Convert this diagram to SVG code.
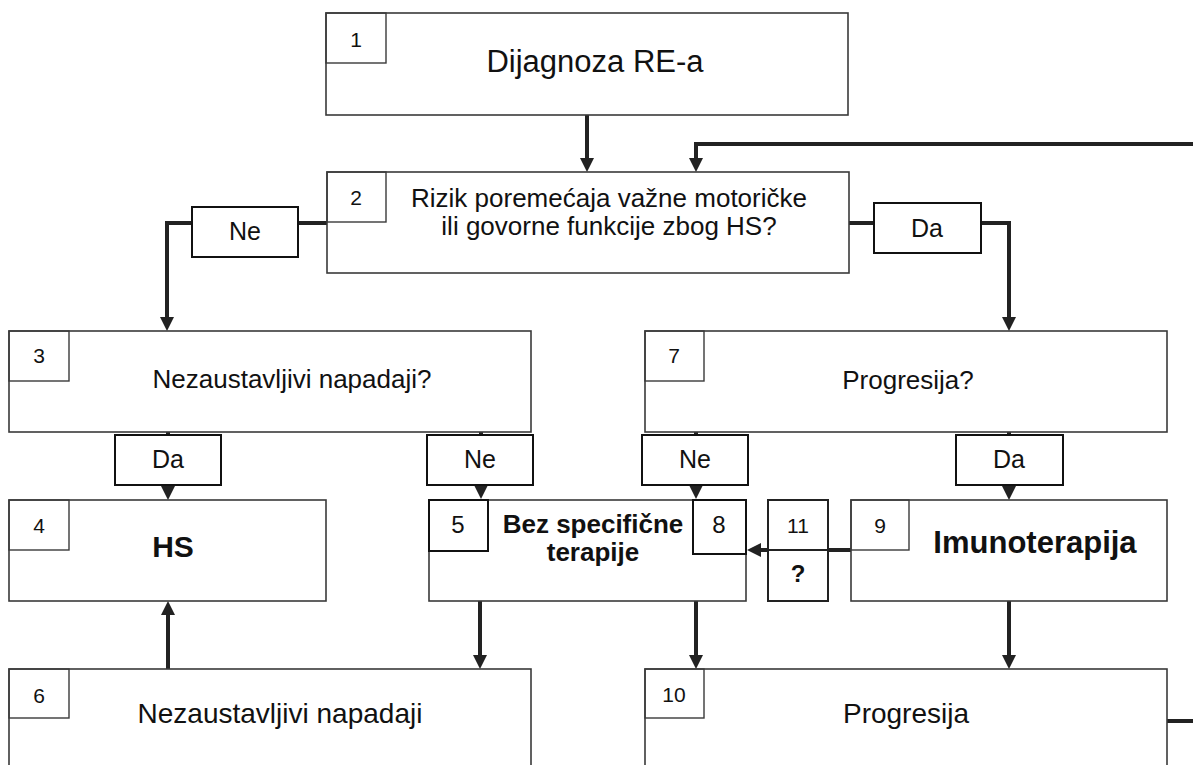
<svg xmlns="http://www.w3.org/2000/svg" width="1193" height="765" viewBox="0 0 1193 765">
<defs>
<marker id="ah" viewBox="0 0 10 10" markerWidth="14" markerHeight="14" markerUnits="userSpaceOnUse" refX="2.86" refY="5" orient="auto">
<path d="M0,0 L10,5 L0,10 z" fill="#222"/>
</marker>
<style>
.box{fill:#fff;stroke:#3a3a3a;stroke-width:1.6}
.lab{fill:none;stroke:#3a3a3a;stroke-width:1.4}
.dn{fill:#fff;stroke:#111;stroke-width:2}
.con{fill:none;stroke:#222;stroke-width:4}
.arr{fill:none;stroke:#222;stroke-width:4;marker-end:url(#ah)}
text{font-family:"Liberation Sans",Arial,sans-serif;fill:#111;text-anchor:middle}
.num{font-size:21px}
.big{font-size:24px}
.t{font-size:26px}
.yn{font-size:25px}
.b{font-weight:bold}
</style>
</defs>
<rect width="1193" height="765" fill="#fff"/>
<g id="connectors">
<line class="arr" x1="587" y1="115" x2="587" y2="162"/>
<polyline class="arr" points="1193,144 696,144 696,162"/>
<polyline class="arr" points="327,223 167,223 167,321"/>
<polyline class="arr" points="849,223 1009,223 1009,321"/>
<line class="arr" x1="168" y1="432" x2="168" y2="490"/>
<line class="arr" x1="481" y1="432" x2="481" y2="489"/>
<line class="arr" x1="696" y1="432" x2="696" y2="489"/>
<line class="arr" x1="1009" y1="432" x2="1009" y2="490"/>
<line class="arr" x1="851" y1="550" x2="757" y2="550"/>
<line class="arr" x1="168" y1="669" x2="168" y2="611"/>
<line class="arr" x1="480" y1="601" x2="480" y2="659"/>
<line class="arr" x1="696" y1="601" x2="696" y2="659"/>
<line class="arr" x1="1009" y1="601" x2="1009" y2="659"/>
<line class="con" x1="1167" y1="721" x2="1193" y2="721"/>
</g>
<g id="node1">
<rect class="box" x="326" y="13" width="522" height="102"/>
<rect class="lab" x="326" y="13" width="60" height="50"/>
<text class="num" x="356" y="47">1</text>
<text x="595" y="72" style="font-size:31px">Dijagnoza RE-a</text>
</g>
<g id="node2">
<rect class="box" x="327" y="172" width="522" height="101"/>
<rect class="lab" x="327" y="172" width="59" height="50"/>
<text class="num" x="356" y="205">2</text>
<text class="t" x="609" y="207">Rizik poremećaja važne motoričke</text>
<text class="t" x="609" y="235">ili govorne funkcije zbog HS?</text>
</g>
<g id="label-ne-2">
<rect class="dn" x="192" y="207" width="106" height="50"/>
<text class="yn" x="245" y="240">Ne</text>
</g>
<g id="label-da-2">
<rect class="dn" x="874" y="203" width="107" height="50"/>
<text class="yn" x="927" y="237">Da</text>
</g>
<g id="node3">
<rect class="box" x="9" y="331" width="522" height="101"/>
<rect class="lab" x="9" y="331" width="60" height="50"/>
<text class="num" x="39" y="363">3</text>
<text class="t" x="292" y="388">Nezaustavljivi napadaji?</text>
</g>
<g id="node7">
<rect class="box" x="645" y="331" width="522" height="101"/>
<rect class="lab" x="645" y="331" width="59" height="50"/>
<text class="num" x="674" y="363">7</text>
<text class="t" x="908" y="389">Progresija?</text>
</g>
<g id="label-da-3">
<rect class="dn" x="115" y="435" width="106" height="50"/>
<text class="yn" x="168" y="468">Da</text>
</g>
<g id="label-ne-3">
<rect class="dn" x="427" y="435" width="106" height="50"/>
<text class="yn" x="480" y="468">Ne</text>
</g>
<g id="label-ne-7">
<rect class="dn" x="642" y="435" width="106" height="50"/>
<text class="yn" x="695" y="468">Ne</text>
</g>
<g id="label-da-7">
<rect class="dn" x="956" y="435" width="107" height="50"/>
<text class="yn" x="1009" y="468">Da</text>
</g>
<g id="node4">
<rect class="box" x="9" y="500" width="317" height="101"/>
<rect class="lab" x="9" y="500" width="60" height="50"/>
<text class="num" x="39" y="533">4</text>
<text class="b" x="173" y="557" style="font-size:30px">HS</text>
</g>
<g id="node5-8">
<rect class="box" x="429" y="500" width="317" height="101"/>
<rect class="dn" x="429" y="500" width="59" height="51"/>
<text class="big" x="458" y="533">5</text>
<rect class="dn" x="693" y="500" width="53" height="54"/>
<text class="big" x="719" y="533">8</text>
<text class="b" x="593" y="533" style="font-size:26px">Bez specifične</text>
<text class="b" x="593" y="561" style="font-size:26px">terapije</text>
</g>
<g id="node11">
<rect class="box" x="768" y="500" width="60" height="101" style="stroke:#222;stroke-width:2"/>
<line x1="768" y1="550" x2="828" y2="550" style="stroke:#222;stroke-width:2"/>
<text class="num" x="798" y="533">11</text>
<text class="b" x="798" y="582" style="font-size:24px">?</text>
</g>
<g id="node9">
<rect class="box" x="851" y="500" width="316" height="101"/>
<rect class="lab" x="851" y="500" width="58" height="50"/>
<text class="num" x="880" y="533">9</text>
<text class="b" x="1035" y="553" style="font-size:31px">Imunoterapija</text>
</g>
<g id="node6">
<rect class="box" x="9" y="669" width="522" height="130"/>
<rect class="lab" x="9" y="669" width="60" height="49"/>
<text class="num" x="39" y="703">6</text>
<text x="280" y="723" style="font-size:28px">Nezaustavljivi napadaji</text>
</g>
<g id="node10">
<rect class="box" x="645" y="669" width="522" height="130"/>
<rect class="lab" x="645" y="669" width="59" height="49"/>
<text class="num" x="674" y="702">10</text>
<text x="906" y="723" style="font-size:28px">Progresija</text>
</g>
</svg>
